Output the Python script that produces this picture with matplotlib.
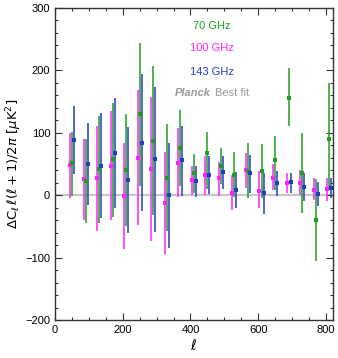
import numpy as np
import matplotlib
matplotlib.use('Agg')
import matplotlib.pyplot as plt
from matplotlib.ticker import MultipleLocator

plt.rcParams['font.family'] = ['Liberation Sans', 'DejaVu Sans']
plt.rcParams['mathtext.fontset'] = 'dejavusans'

# bin centres in multipole
ell = np.array([50, 90, 130, 170, 210, 250, 290, 330, 370, 410,
                450, 490, 530, 570, 610, 650, 690, 730, 770, 808])

# 70 GHz : value, lower end, upper end of error bar
g70 = np.array([51, 23, 41, 57, 40, 129, 87, 28, 76, 35,
                68, 46, 32, 39, 38, 56, 156, 36, -40, 89])
g70_lo = np.array([-2, -44, -44, -35, -50, 14, -32, -57, 15, 4,
                   9, 17, -3, -5, -5, 8, 110, -28, -105, 10])
g70_hi = np.array([101, 90, 127, 148, 130, 244, 207, 113, 136, 65,
                   101, 75, 69, 83, 81, 94, 203, 100, 26, 179])

# 100 GHz
m100 = np.array([48, 25, 27, 47, -1, 60, 42, -12, 52, 24,
                 32, 27, 4, 40, 7, 28, 19, 19, 8, 9])
m100_lo = np.array([-4, -40, -58, -40, -86, -48, -74, -94, -3, 0,
                    0, -1, -24, 11, -20, 8, 3, 0, -8, -10])
m100_hi = np.array([100, 90, 111, 135, 84, 168, 157, 69, 108, 47,
                    63, 53, 32, 68, 38, 49, 35, 40, 28, 28])

# 143 GHz
b143 = np.array([88, 49, 47, 68, 24, 84, 57, 0, 56, 23,
                 32, 37, 8, 36, 4, 19, 21, 13, 1, 11])
b143_lo = np.array([34, -16, -37, -21, -61, -25, -59, -84, -1, -3,
                    1, 10, -20, 4, -30, -2, 4, -10, -18, -5])
b143_hi = np.array([143, 115, 131, 156, 109, 193, 173, 83, 111, 47,
                    62, 63, 37, 64, 35, 39, 35, 36, 21, 28])

green = '#1f9e1f'
magenta = '#ff22ff'
blue = '#1f3fbf'

fig = plt.figure(figsize=(3.38, 3.58), dpi=100)
ax = fig.add_axes([0.163, 0.106, 0.822, 0.873])

ax.axhline(0, color='#c8c8c8', lw=1.6, zorder=0)

series = [(m100, m100_lo, m100_hi, -6, magenta),
          (g70, g70_lo, g70_hi, 0, green),
          (b143, b143_lo, b143_hi, 6, blue)]
for val, lo, hi, dx, col in series:
    yerr = [val - lo, hi - val]
    ax.errorbar(ell + dx, val, yerr=yerr, fmt='s', color=col, ms=3.2,
                elinewidth=1.1, capsize=2.3, capthick=1.1, mew=0)

ax.set_xlim(0, 821)
ax.set_ylim(-200, 300)
ax.xaxis.set_major_locator(MultipleLocator(200))
ax.xaxis.set_minor_locator(MultipleLocator(50))
ax.yaxis.set_major_locator(MultipleLocator(100))
ax.yaxis.set_minor_locator(MultipleLocator(20))
ax.tick_params(which='both', direction='in', top=True, right=True,
               labelsize=8, width=0.8, color='#333333')
ax.tick_params(which='major', length=5)
ax.tick_params(which='minor', length=2.5)
for s in ax.spines.values():
    s.set_linewidth(1.0)
    s.set_color('#333333')

ax.set_xlabel(r'$\ell$', fontsize=10, labelpad=2)
ax.set_ylabel(r'$\Delta{\rm C}_\ell\,\ell(\ell+1)/2\pi\ [\mu{\rm K}^2]$',
              fontsize=9.5, labelpad=1)

# legend labels written as text
ax.text(0.565, 0.94, '70 GHz', color=green, fontsize=8,
        ha='center', va='center', transform=ax.transAxes)
ax.text(0.563, 0.87, '100 GHz', color=magenta, fontsize=8,
        ha='center', va='center', transform=ax.transAxes)
ax.text(0.563, 0.795, '143 GHz', color=blue, fontsize=8,
        ha='center', va='center', transform=ax.transAxes)
ax.text(0.56, 0.727, 'Planck', color='#999999', fontsize=8,
        style='italic', weight='bold', ha='right', va='center',
        transform=ax.transAxes)
ax.text(0.575, 0.727, 'Best fit', color='#999999', fontsize=8,
        ha='left', va='center', transform=ax.transAxes)

plt.savefig('out.png', dpi=100)
